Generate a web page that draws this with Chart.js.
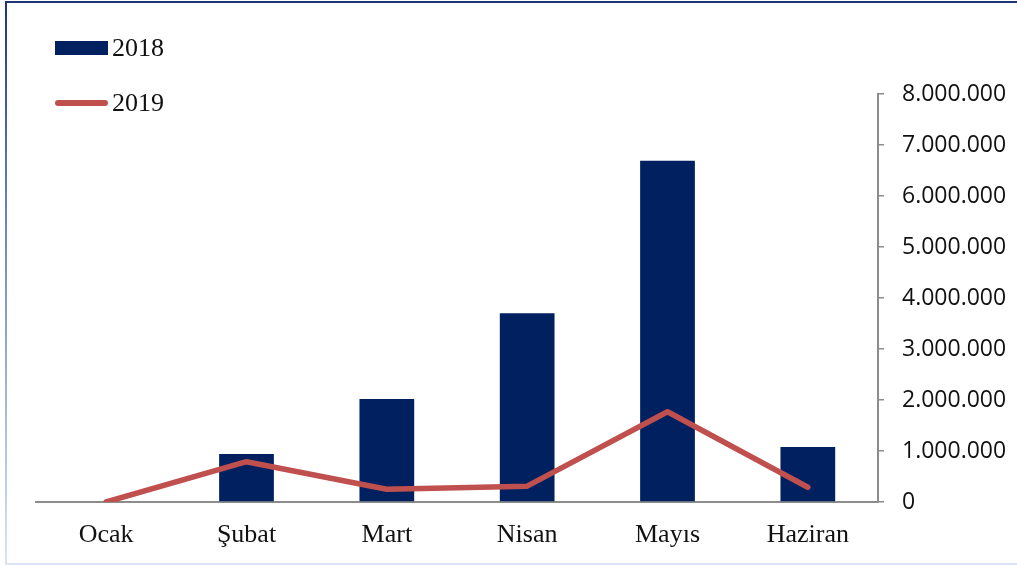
<!DOCTYPE html>
<html>
<head>
<meta charset="utf-8">
<script src="https://cdn.jsdelivr.net/npm/chart.js@4"></script>
<style>
  html, body { margin: 0; padding: 0; background: #fff; }
  #wrap { position: relative; width: 1017px; height: 566px; overflow: hidden; }
  #chart { position: absolute; left: 0; top: 0; }
  .edge { position: absolute; }
  #edgeTop { left: 5px; top: 1px; width: 1012px; height: 2px; background: #1c3575; }
  #edgeLeft { left: 5px; top: 1px; width: 2px; height: 564px; background: linear-gradient(#1c3575, #5677b8 30%, #dbe4f4); }
  #edgeBottom { left: 5px; top: 563px; width: 1012px; height: 2px; background: #dde5f4; }
  #legend { position: absolute; left: 55px; top: 32px; font-family: "Liberation Serif", serif; font-size: 26px; color: #111; }
  .item { display: flex; align-items: center; height: 32px; margin-bottom: 23px; }
  .swatch { width: 53px; margin-right: 4px; }
</style>
</head>
<body>
<div id="wrap">
  <canvas id="chart" width="1017" height="566"></canvas>
  <div id="legend"></div>
  <div class="edge" id="edgeTop"></div>
  <div class="edge" id="edgeLeft"></div>
  <div class="edge" id="edgeBottom"></div>
</div>
<script>
  // data
  const months = ['Ocak', 'Şubat', 'Mart', 'Nisan', 'Mayıs', 'Haziran'];
  const values2018 = [0, 940000, 2020000, 3700000, 6690000, 1080000];
  const values2019 = [0, 790000, 250000, 310000, 1770000, 290000];

  const navy = '#002060';
  const red = '#c0504d';

  function fmt(v) {
    return String(Math.round(v)).replace(/\B(?=(\d{3})+(?!\d))/g, '.');
  }

  function draw() {
    const ctx = document.getElementById('chart');
    const chart = new Chart(ctx, {
      data: {
        labels: months,
        datasets: [
          {
            type: 'line',
            label: '2019',
            data: values2019,
            borderColor: red,
            backgroundColor: red,
            borderWidth: 5.5,
            borderCapStyle: 'round',
            borderJoinStyle: 'round',
            pointRadius: 0,
            tension: 0,
            order: 0
          },
          {
            type: 'bar',
            label: '2018',
            data: values2018,
            backgroundColor: navy,
            barPercentage: 0.39,
            categoryPercentage: 1,
            order: 1
          }
        ]
      },
      options: {
        responsive: false,
        animation: false,
        layout: { padding: { left: 36, top: 94, right: 0, bottom: 0 } },
        plugins: { legend: { display: false }, tooltip: { enabled: false } },
        scales: {
          x: {
            grid: { display: false, drawTicks: false },
            border: { color: '#8c8c8c', width: 2 },
            ticks: {
              color: '#111',
              padding: 18,
              font: { family: 'Liberation Serif', size: 26 }
            },
            afterFit: s => { s.height = 64; }
          },
          y: {
            position: 'right',
            min: 0,
            max: 8000000,
            grid: { drawOnChartArea: false, color: '#8c8c8c', tickLength: 6, lineWidth: 1.5 },
            border: { color: '#8c8c8c', width: 2 },
            ticks: {
              stepSize: 1000000,
              color: '#111',
              padding: 18,
              font: { family: 'Open Sans', size: 23 },
              callback: v => fmt(v)
            },
            afterFit: s => { s.width = 139; }
          }
        }
      }
    });

    // legend in the top-left corner, built from the datasets
    const legend = document.getElementById('legend');
    [chart.data.datasets[1], chart.data.datasets[0]].forEach(ds => {
      const item = document.createElement('div');
      item.className = 'item';
      const sw = document.createElement('div');
      sw.className = 'swatch';
      if (ds.type === 'bar') {
        sw.style.height = '14px';
        sw.style.background = ds.backgroundColor;
      } else {
        sw.style.height = '6px';
        sw.style.borderRadius = '3px';
        sw.style.background = ds.borderColor;
      }
      const txt = document.createElement('span');
      txt.textContent = ds.label;
      item.appendChild(sw);
      item.appendChild(txt);
      legend.appendChild(item);
    });
  }

  Promise.all([
    document.fonts.load('23px "Open Sans"'),
    document.fonts.load('26px "Liberation Serif"')
  ]).then(draw, draw);
</script>
</body>
</html>
